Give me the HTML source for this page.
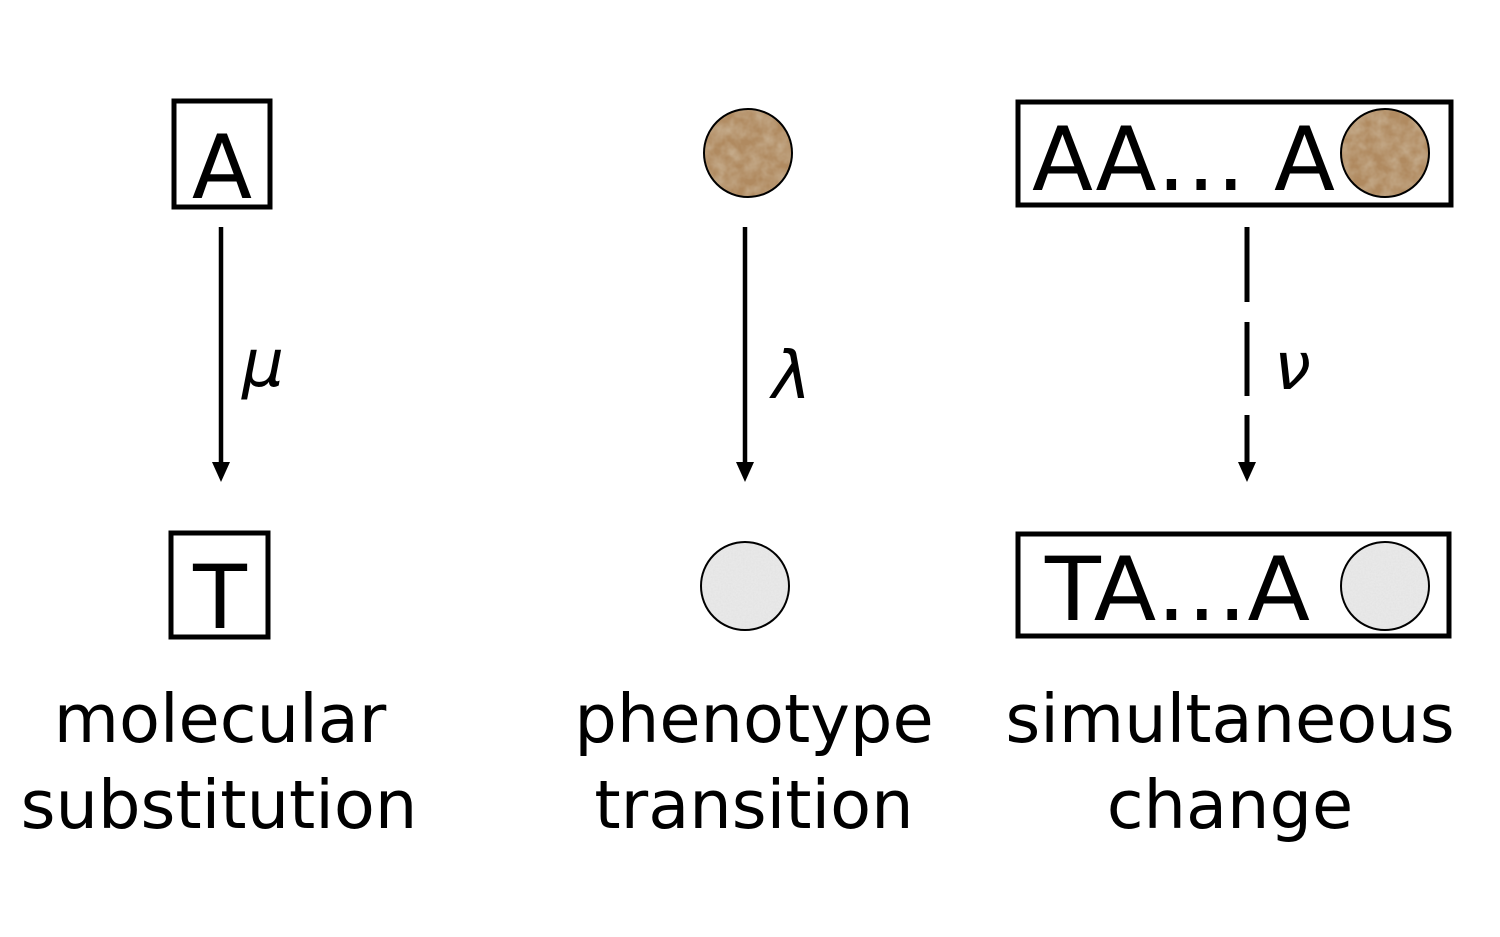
<!DOCTYPE html>
<html><head><meta charset="utf-8"><style>html,body{margin:0;padding:0;background:#fff}svg{display:block}</style></head>
<body>
<svg width="1500" height="937" viewBox="0 0 1500 937" xmlns="http://www.w3.org/2000/svg" font-family="DejaVu Sans, Liberation Sans, sans-serif">
<defs>
<filter id="brown" x="0" y="0" width="100%" height="100%">
<feTurbulence type="fractalNoise" baseFrequency="0.08" numOctaves="3" seed="4"/>
<feColorMatrix type="matrix" values="0 0 0 0 0.55  0 0 0 0 0.4  0 0 0 0 0.25  0 0 0 -1.8 1.3"/>
</filter>
<filter id="grey" x="0" y="0" width="100%" height="100%">
<feTurbulence type="fractalNoise" baseFrequency="0.6" numOctaves="2" seed="2"/>
<feColorMatrix type="matrix" values="0 0 0 0 0.75  0 0 0 0 0.75  0 0 0 0 0.75  0 0 0 -1.4 0.9"/>
</filter>
<clipPath id="c1"><circle cx="748" cy="153" r="44"/></clipPath>
<clipPath id="c2"><circle cx="1385" cy="153" r="44"/></clipPath>
<clipPath id="c3"><circle cx="745" cy="586" r="44"/></clipPath>
<clipPath id="c4"><circle cx="1385" cy="586" r="44"/></clipPath>
</defs>
<rect width="1500" height="937" fill="#fff"/>

<rect x="174" y="101" width="96" height="106" fill="none" stroke="#000" stroke-width="5"/>
<text x="222" y="198" font-size="88" text-anchor="middle">A</text>
<rect x="171" y="533" width="97" height="104" fill="none" stroke="#000" stroke-width="5"/>
<text x="220" y="628" font-size="88" text-anchor="middle">T</text>

<rect x="1018" y="102" width="433" height="103" fill="none" stroke="#000" stroke-width="5"/>
<text x="1032" y="190" font-size="88" textLength="303" lengthAdjust="spacingAndGlyphs" font-weight="normal">AA… A</text>
<rect x="1018" y="534" width="431" height="102" fill="none" stroke="#000" stroke-width="5"/>
<text x="1045" y="620" font-size="88" textLength="265" lengthAdjust="spacingAndGlyphs">TA…A</text>

<g clip-path="url(#c1)"><rect x="700" y="105" width="96" height="96" fill="#b08a60"/><rect x="700" y="105" width="96" height="96" filter="url(#brown)"/></g>
<circle cx="748" cy="153" r="44" fill="none" stroke="#000" stroke-width="2"/>
<g clip-path="url(#c2)"><rect x="1337" y="105" width="96" height="96" fill="#b08a60"/><rect x="1337" y="105" width="96" height="96" filter="url(#brown)"/></g>
<circle cx="1385" cy="153" r="44" fill="none" stroke="#000" stroke-width="2"/>
<g clip-path="url(#c3)"><rect x="697" y="538" width="96" height="96" fill="#e8e8e8"/><rect x="697" y="538" width="96" height="96" filter="url(#grey)"/></g>
<circle cx="745" cy="586" r="44" fill="none" stroke="#000" stroke-width="2"/>
<g clip-path="url(#c4)"><rect x="1337" y="538" width="96" height="96" fill="#e8e8e8"/><rect x="1337" y="538" width="96" height="96" filter="url(#grey)"/></g>
<circle cx="1385" cy="586" r="44" fill="none" stroke="#000" stroke-width="2"/>

<line x1="221" y1="227" x2="221" y2="464" stroke="#000" stroke-width="4.5"/>
<polygon points="212,462 230,462 221,482" fill="#000"/>
<line x1="745" y1="227" x2="745" y2="464" stroke="#000" stroke-width="4.5"/>
<polygon points="736,462 754,462 745,482" fill="#000"/>
<line x1="1247" y1="227" x2="1247" y2="302" stroke="#000" stroke-width="5"/>
<line x1="1247" y1="322" x2="1247" y2="396" stroke="#000" stroke-width="5"/>
<line x1="1247" y1="415" x2="1247" y2="464" stroke="#000" stroke-width="5"/>
<polygon points="1238,462 1256,462 1247,482" fill="#000"/>

<text x="242" y="386" font-size="66" font-style="italic">μ</text>
<text x="772" y="398" font-size="66" font-style="italic">λ</text>
<text x="1274" y="389" font-size="66" font-style="italic">ν</text>

<g font-size="67" text-anchor="middle">
<text x="220" y="742">molecular</text>
<text x="219" y="828">substitution</text>
<text x="754" y="742">phenotype</text>
<text x="754" y="828">transition</text>
<text x="1230" y="742">simultaneous</text>
<text x="1230" y="828">change</text>
</g>
</svg>
</body></html>
